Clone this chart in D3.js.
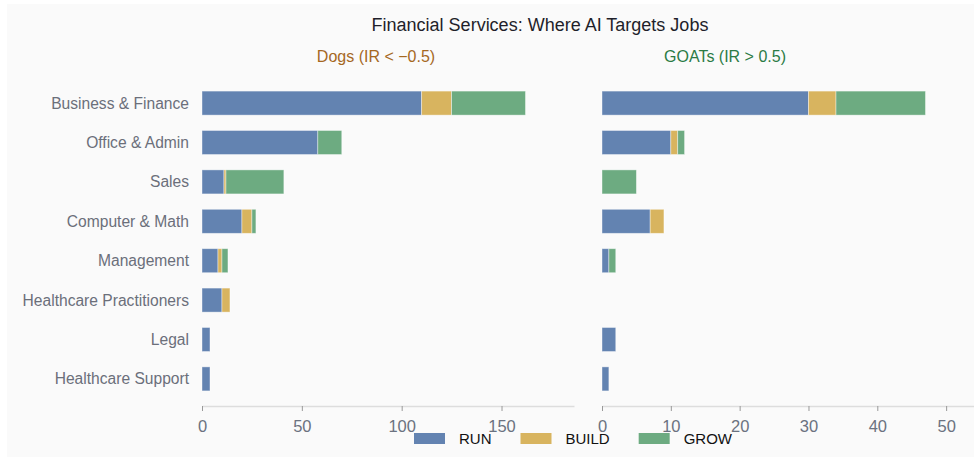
<!DOCTYPE html>
<html>
<head>
<meta charset="utf-8">
<script src="https://cdn.jsdelivr.net/npm/d3@7"></script>
<style>
  body { margin: 0; background: #fff; }
  svg { display: block; font-family: "Liberation Sans", Arial, sans-serif; }
</style>
</head>
<body>
<svg width="974" height="464"></svg>
<script>
// job categories, top to bottom
var categories = ["Business & Finance", "Office & Admin", "Sales", "Computer & Math",
  "Management", "Healthcare Practitioners", "Legal", "Healthcare Support"];
var series = ["RUN", "BUILD", "GROW"];
var colors = ["#6383b1", "#d8b45f", "#6dab81"];

// Dogs (IR < -0.5)
var dogsRun = [110, 58, 11, 20, 8, 10, 4, 4];
var dogsBuild = [15, 0, 1, 5, 2, 4, 0, 0];
var dogsGrow = [37, 12, 29, 2, 3, 0, 0, 0];
var dogsTicks = [0, 50, 100, 150];

// GOATs (IR > 0.5)
var goatsRun = [30, 10, 0, 7, 1, 0, 2, 1];
var goatsBuild = [4, 1, 0, 2, 0, 0, 0, 0];
var goatsGrow = [13, 1, 5, 0, 1, 0, 0, 0];
var goatsTicks = [0, 10, 20, 30, 40, 50];

var svg = d3.select('svg');

svg.append('rect')
  .attr('x', 7).attr('y', 4)
  .attr('width', 967).attr('height', 453)
  .attr('fill', '#fafafa');

svg.append('text')
  .attr('x', 540).attr('y', 31)
  .attr('text-anchor', 'middle')
  .attr('font-size', 18)
  .attr('fill', '#1f1f2a')
  .text('Financial Services: Where AI Targets Jobs');

var yScale = d3.scaleBand()
  .domain(categories)
  .range([76, 406])
  .paddingInner(0.39)
  .paddingOuter(0.383);

function panel(x0, x1, run, build, grow, ticks, title, titleX, titleColor) {
  var rows = categories.map(function(c, i) {
    return { cat: c, RUN: run[i], BUILD: build[i], GROW: grow[i] };
  });
  var maxTotal = d3.max(rows, function(d) { return d.RUN + d.BUILD + d.GROW; });
  var xScale = d3.scaleLinear()
    .domain([0, maxTotal * 1.15])
    .range([x0, x1]);

  var stacked = d3.stack().keys(series)(rows);

  var g = svg.append('g');
  g.selectAll('g.layer')
    .data(stacked)
    .enter().append('g')
    .attr('class', 'layer')
    .attr('fill', function(d, i) { return colors[i]; })
    .selectAll('rect')
    .data(function(d) { return d.filter(function(p) { return p[1] > p[0]; }); })
    .enter().append('rect')
    .attr('x', function(d) { return xScale(d[0]); })
    .attr('y', function(d) { return yScale(d.data.cat); })
    .attr('width', function(d) { return xScale(d[1]) - xScale(d[0]); })
    .attr('height', yScale.bandwidth())
    .attr('stroke', '#ffffff')
    .attr('stroke-opacity', 0.5)
    .attr('stroke-width', 0.8);

  var xAxis = d3.axisBottom(xScale)
    .tickValues(ticks)
    .tickSize(5)
    .tickSizeOuter(0)
    .tickPadding(9);

  var ax = svg.append('g')
    .attr('transform', 'translate(0,406)')
    .call(xAxis);
  ax.select('.domain').attr('stroke', '#dddddd').attr('stroke-width', 1.5);
  ax.selectAll('.tick line').attr('stroke', '#999');
  ax.selectAll('.tick text')
    .attr('fill', '#6b7280')
    .attr('font-size', 16.5)
    .attr('font-family', '"Liberation Sans", Arial, sans-serif');

  svg.append('text')
    .attr('x', titleX).attr('y', 62)
    .attr('text-anchor', 'middle')
    .attr('font-size', 16)
    .attr('fill', titleColor)
    .text(title);
}

panel(202, 574, dogsRun, dogsBuild, dogsGrow, dogsTicks, 'Dogs (IR < \u22120.5)', 376, '#a5681f');
panel(602, 974, goatsRun, goatsBuild, goatsGrow, goatsTicks, 'GOATs (IR > 0.5)', 725, '#2b7a45');

// category labels
svg.append('g')
  .selectAll('text')
  .data(categories)
  .enter().append('text')
  .attr('x', 189)
  .attr('y', function(d) { return yScale(d) + yScale.bandwidth() / 2; })
  .attr('dy', '0.35em')
  .attr('text-anchor', 'end')
  .attr('font-size', 15.6)
  .attr('fill', '#6b6f7a')
  .text(function(d) { return d; });

// legend
var legend = svg.append('g');
var lx = 414;
series.forEach(function(s, i) {
  legend.append('rect')
    .attr('x', lx).attr('y', 433)
    .attr('width', 31).attr('height', 11)
    .attr('fill', colors[i]);
  var t = legend.append('text')
    .attr('x', lx + 45).attr('y', 438.5)
    .attr('dy', '0.35em')
    .attr('font-size', 15)
    .attr('fill', '#111')
    .text(s);
  lx = lx + 45 + t.node().getComputedTextLength() + 29;
});
</script>
</body>
</html>
